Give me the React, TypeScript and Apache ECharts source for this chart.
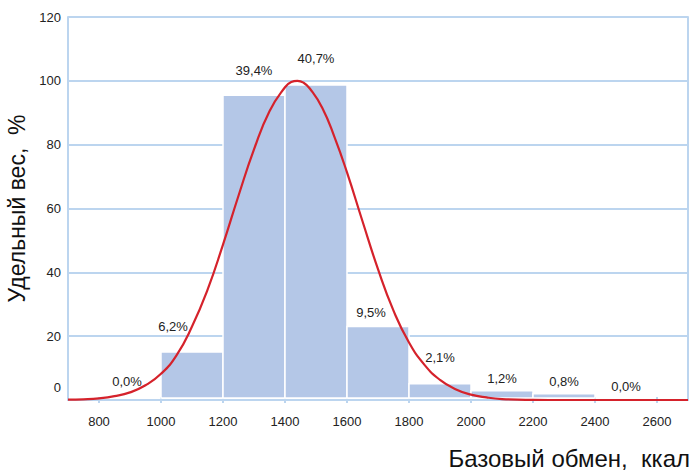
import React, { useEffect, useRef } from "react";
import * as echarts from "echarts";

// Histogram bins, kcal
const binStart = [800, 1000, 1200, 1400, 1600, 1800, 2000, 2200, 2400];
const binEnd = [1000, 1200, 1400, 1600, 1800, 2000, 2200, 2400, 2600];
// Share of each bin, %
const sharePct = [0.0, 6.2, 39.4, 40.7, 9.5, 2.1, 1.2, 0.8, 0.0];

// Fitted distribution curve (kcal -> relative height)
const curveKcal = [
  700, 750, 800, 850, 900, 950, 1000, 1050, 1100, 1150, 1200, 1250, 1300, 1350,
  1400, 1420, 1440, 1460, 1480, 1520, 1560, 1600, 1650, 1700, 1750, 1800, 1850,
  1900, 1950, 2000, 2050, 2100, 2200, 2300, 2700,
];
const curveValue = [
  0.1, 0.2, 0.5, 1.2, 2.4, 4.6, 8.2, 14, 23, 34.5, 48.7, 64, 78.5, 90.5, 98,
  99.6, 100, 99.4, 97.6, 91.6, 82.3, 71.3, 56, 41, 28, 18, 11, 6.3, 3.4, 1.7,
  0.8, 0.3, 0.05, 0, 0,
];

// Axis ticks
const xTicks = [800, 1000, 1200, 1400, 1600, 1800, 2000, 2200, 2400, 2600];

const FRAME = "#bcd5ef";
const FONT = '"Liberation Sans", Arial, sans-serif';

// Label placement per bin: [dx, dy above bar top], px
const labelNudge = [
  [-3, 19],
  [-19, 26],
  [0, 25],
  [0, 27],
  [-7, 14],
  [0, 26],
  [0, 12],
  [0, 12],
  [0, 14],
];

const fmtPct = (v: number) => v.toFixed(1).replace(".", ",") + "%";

export default function App() {
  const ref = useRef<HTMLDivElement>(null);

  useEffect(() => {
    if (!ref.current) return;
    const chart = echarts.init(ref.current, undefined, { renderer: "svg" });

    const barData = binStart.map((s, i) => [s, binEnd[i], sharePct[i], i]);
    const lineData = curveKcal.map((k, i) => [k, curveValue[i]]);

    chart.setOption({
      animation: false,
      backgroundColor: "#ffffff",
      grid: {
        left: 68,
        right: 4,
        top: 17,
        bottom: 73,
        containLabel: false,
        outerBoundsMode: "none",
      },
      xAxis: [
        {
          type: "value",
          min: 700,
          max: 2700,
          position: "bottom",
          axisLine: { show: true, lineStyle: { color: FRAME, width: 2 } },
          axisTick: {
            show: true,
            inside: true,
            length: 3,
            customValues: xTicks,
            lineStyle: { color: FRAME, width: 2 },
          },
          axisLabel: {
            customValues: xTicks,
            margin: 15,
            color: "#222",
            fontSize: 13,
            fontFamily: FONT,
            formatter: (v: number) => String(v),
          },
          splitLine: { show: false },
        },
        {
          type: "value",
          min: 700,
          max: 2700,
          position: "top",
          axisLine: { show: true, lineStyle: { color: FRAME, width: 2 } },
          axisTick: {
            show: true,
            inside: true,
            length: 3,
            customValues: xTicks,
            lineStyle: { color: FRAME, width: 2 },
          },
          axisLabel: { show: false },
          splitLine: { show: false },
        },
      ],
      yAxis: [
        {
          type: "value",
          min: 0,
          max: 120,
          interval: 20,
          position: "left",
          name: "Удельный вес,  %",
          nameLocation: "middle",
          nameGap: 38,
          nameTextStyle: { fontSize: 23, color: "#111", fontFamily: FONT },
          axisLine: { show: true, lineStyle: { color: FRAME, width: 2 } },
          axisTick: { show: false },
          axisLabel: {
            margin: 7,
            color: "#222",
            fontSize: 13,
            fontFamily: FONT,
            formatter: (v: number) => (v === 0 ? "{z|0}" : String(v)),
            rich: {
              z: {
                fontSize: 13,
                color: "#222",
                fontFamily: FONT,
                padding: [0, 0, 26, 0],
              },
            },
          },
          splitLine: { show: true, lineStyle: { color: FRAME, width: 2 } },
        },
        {
          // bar scale (percent), drawn as the right frame
          type: "value",
          min: 0,
          max: 49.5,
          position: "right",
          axisLine: { show: true, lineStyle: { color: FRAME, width: 2 } },
          axisTick: { show: false },
          axisLabel: { show: false },
          splitLine: { show: false },
        },
      ],
      series: [
        {
          type: "custom",
          xAxisIndex: 0,
          yAxisIndex: 1,
          z: 2,
          encode: { x: [0, 1], y: 2 },
          data: barData,
          renderItem: (params: any, api: any) => {
            const x0 = api.value(0);
            const x1 = api.value(1);
            const v = api.value(2);
            const idx = api.value(3);
            const tl = api.coord([x0, v]);
            const br = api.coord([x1, 0]);
            const [dx, dy] = labelNudge[idx] || [0, 12];
            const children: any[] = [];
            if (v > 0) {
              children.push({
                type: "rect",
                shape: {
                  x: tl[0],
                  y: tl[1],
                  width: br[0] - tl[0],
                  height: br[1] - 2 - tl[1],
                },
                style: { fill: "#b4c7e7", stroke: "#ffffff", lineWidth: 1.5 },
              });
            }
            children.push({
              type: "text",
              x: (tl[0] + br[0]) / 2 + dx,
              y: tl[1] - dy,
              style: {
                text: fmtPct(v),
                fill: "#222",
                font: `13px ${FONT}`,
                align: "center",
                verticalAlign: "middle",
              },
            });
            return { type: "group", children };
          },
        },
        {
          type: "line",
          xAxisIndex: 0,
          yAxisIndex: 0,
          z: 3,
          data: lineData,
          smooth: true,
          symbol: "none",
          clip: false,
          lineStyle: { color: "#d5222b", width: 2.2 },
        },
      ],
      graphic: [
        {
          type: "text",
          right: 2,
          top: 446,
          style: {
            text: "Базовый обмен,  ккал",
            fill: "#111",
            font: `24px ${FONT}`,
          },
        },
      ],
    });

    return () => chart.dispose();
  }, []);

  return (
    <div
      ref={ref}
      style={{ position: "fixed", left: 0, top: 0, width: 692, height: 473 }}
    />
  );
}
